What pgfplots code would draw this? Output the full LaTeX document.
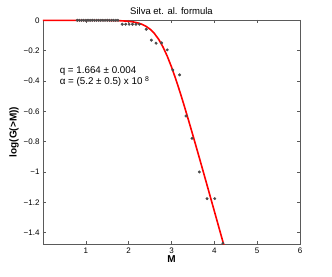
\documentclass[border=0pt]{standalone}
\usepackage{fontspec}
\setmainfont{Liberation Sans}
\usepackage{pgfplots}
\pgfplotsset{compat=1.18}
\definecolor{axgray}{RGB}{90,90,90}
\definecolor{dotgray}{RGB}{75,75,75}
\begin{document}
\begin{tikzpicture}
\begin{axis}[
  scale only axis, width=257pt, height=224pt,
  xmin=0, xmax=6, ymin=-1.475, ymax=0.002,
  axis line style={axgray, line width=0.6pt},
  tick style={axgray, line width=0.5pt},
  tick align=inside, major tick length=3pt,
  xtick={1,2,3,4,5,6}, xticklabels={1,2,3,4,5,6},
  ytick={-1.4,-1.2,-1,-0.8,-0.6,-0.4,-0.2,0},
  yticklabels={−1.4,−1.2,−1,−0.8,−0.6,−0.4,−0.2,0},
  tick label style={font=\fontsize{8}{9}\selectfont},
  xlabel={\textbf{M}}, ylabel={\textbf{log(G(>M))}},
  label style={font=\fontsize{10}{12}\selectfont},
  xlabel style={yshift=4pt}, ylabel style={yshift=-2pt},
  title={Silva et. al. formula},
  title style={font=\fontsize{9.5}{11}\selectfont, yshift=-4pt},
  clip=true,
]
\addplot[only marks, mark=*, mark size=1.3pt, dotgray, mark options={draw=dotgray, fill=dotgray}] coordinates {
(0.80,0) (0.85,0) (0.90,0) (0.95,0) (1.00,0) (1.05,0) (1.10,0) (1.15,0) (1.20,0) (1.25,0)
(1.30,0) (1.35,0) (1.40,0) (1.45,0) (1.50,0) (1.55,0) (1.60,0) (1.65,0) (1.70,0) (1.75,0)
(1.85,-0.026) (1.93,-0.026) (2.01,-0.026) (2.09,-0.026) (2.17,-0.026) (2.25,-0.026)
(2.41,-0.059) (2.53,-0.131) (2.64,-0.151) (2.77,-0.149) (2.90,-0.195)
(3.03,-0.327) (3.19,-0.360) (3.34,-0.631) (3.48,-0.778) (3.65,-1.000)
(3.83,-1.176) (4.01,-1.176) (4.20,-1.470)
};
\addplot[red, line width=1.6pt] coordinates {
(0,0) (0.5,0) (1.0,-0.0001) (1.5,-0.0007) (1.8,-0.0027) (2.0,-0.0066) (2.1,-0.0104)
(2.2,-0.0162) (2.3,-0.0252) (2.4,-0.0388) (2.5,-0.0586) (2.6,-0.0868) (2.7,-0.1251)
(2.8,-0.1749) (2.9,-0.2360) (3.0,-0.3076) (3.1,-0.3879) (3.2,-0.4747) (3.3,-0.5664)
(3.4,-0.6613) (3.5,-0.7585) (3.6,-0.8571) (3.7,-0.9566) (3.8,-1.0568) (3.9,-1.1574)
(4.0,-1.2581) (4.1,-1.3591) (4.2,-1.4601) (4.23,-1.4904)
};
\node[anchor=west, font=\fontsize{9.8}{11}\selectfont] at (axis cs:0.31,-0.337) {q = 1.664 ± 0.004};
\node[anchor=west, font=\fontsize{9.8}{11}\selectfont] at (axis cs:0.31,-0.405) {α = (5.2 ± 0.5) x 10 \textsuperscript{8}};
\end{axis}
\path[use as bounding box] (current axis.south west) ++(-43pt,-32pt) rectangle ++(332pt,276pt);
\end{tikzpicture}
\end{document}
